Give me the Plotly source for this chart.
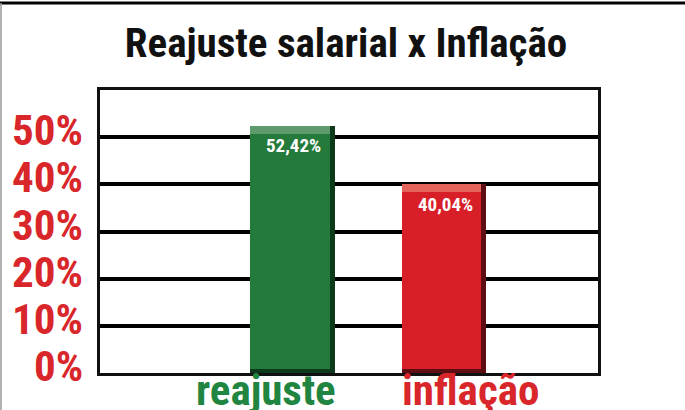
import plotly.graph_objects as go

categories = ["reajuste", "inflação"]
values = [52.42, 40.04]
value_labels = ["52,42%", "40,04%"]
bar_colors = ["#247a3b", "#d81f27"]
bar_dark = ["#0c3a1a", "#5e0e12"]
bar_light = ["#5e9a6c", "#e2645a"]
label_colors = ["#1f8540", "#d8262b"]
label_shift = [-26, 26]
y_ticks = [0, 10, 20, 30, 40, 50]
y_tick_labels = ["0%", "10%", "20%", "30%", "40%", "50%"]
title_text = "Reajuste salarial x Inflação"

FONT = "Liberation Sans Narrow, Roboto Condensed, Roboto, sans-serif"

BW = 0.56        # bar width (category units)
EDGE = 0.035     # dark right edge width
TOP = 1.7        # light top bevel (value units)
BOT = 0.8        # dark bottom bevel (value units)

fig = go.Figure()
# dark body (shows as right edge / bottom bevel)
fig.add_trace(go.Bar(
    x=categories, y=values, width=BW,
    marker=dict(color=bar_dark, line=dict(width=0)),
    hoverinfo="skip",
))
# light top bevel
fig.add_trace(go.Bar(
    x=categories, y=[TOP] * len(values), base=[v - TOP for v in values],
    width=BW - EDGE, offset=-BW / 2,
    marker=dict(color=bar_light, line=dict(width=0)),
    hoverinfo="skip",
))
# main face
fig.add_trace(go.Bar(
    x=categories, y=[v - BOT - TOP for v in values], base=BOT,
    width=BW - EDGE, offset=-BW / 2,
    marker=dict(color=bar_colors, line=dict(width=0)),
    hovertext=value_labels, hoverinfo="text+x",
))

W, H = 685, 410
L, R, T, B = 100, 87, 90, 37
pw, ph = W - L - R, H - T - B

def px(x):
    return (x - L) / pw

def py(y):
    return (H - B - y) / ph

fig.update_layout(
    width=W, height=H,
    margin=dict(l=L, r=R, t=T, b=B, pad=0, autoexpand=False),
    paper_bgcolor="white", plot_bgcolor="white",
    showlegend=False, barmode="overlay",
    title=dict(text="<b>" + title_text + "</b>", x=346 / W, xanchor="center",
               y=1 - 43 / H, yanchor="middle",
               font=dict(family=FONT, size=41, color="#111111")),
    bargap=0,
)
fig.update_xaxes(
    range=[-1.27, 2.016], showgrid=False, zeroline=False, automargin=False,
    showticklabels=False,
    showline=True, linecolor="#111111", linewidth=3, mirror=True,
    ticks="",
)
fig.update_yaxes(
    range=[0, 60], tickmode="array", tickvals=y_ticks, automargin=False,
    showticklabels=False,
    showgrid=True, gridcolor="#000000", gridwidth=4,
    zeroline=False,
    showline=True, linecolor="#111111", linewidth=3, mirror=True,
    ticks="",
)

# y-axis labels (sit slightly above their gridlines, as in the original)
for v, lab in zip(y_ticks, y_tick_labels):
    fig.add_annotation(
        x=0, xref="paper", y=v, yref="y", xanchor="right", yanchor="middle",
        xshift=-15, yshift=7, showarrow=False,
        text=f"<b>{lab}</b>",
        font=dict(family=FONT, size=43, color="#d8262b"),
    )

# value labels inside the bars, near the top
for cat, v, lab in zip(categories, values, value_labels):
    fig.add_annotation(
        x=cat, xref="x", y=v, yref="y", yanchor="middle",
        xshift=1, yshift=-20, showarrow=False,
        text=f"<b>{lab}</b>",
        font=dict(family=FONT, size=19, color="white"),
    )

# category labels under the axis
for cat, col, sh in zip(categories, label_colors, label_shift):
    fig.add_annotation(
        x=cat, xref="x", y=0, yref="paper", yanchor="top",
        xshift=sh, yshift=10, showarrow=False,
        text=f"<b>{cat}</b>",
        font=dict(family=FONT, size=43, color=col),
    )

fig.add_shape(type="line", xref="paper", yref="paper",
              x0=px(0), x1=px(W), y0=py(3), y1=py(3),
              line=dict(color="#000000", width=3))
fig.add_shape(type="line", xref="paper", yref="paper",
              x0=px(1), x1=px(1), y0=py(3), y1=py(H),
              line=dict(color="#999999", width=1.5))

fig.write_html("out.html", config={"displayModeBar": False},
               post_script="document.body.style.margin='0';")
